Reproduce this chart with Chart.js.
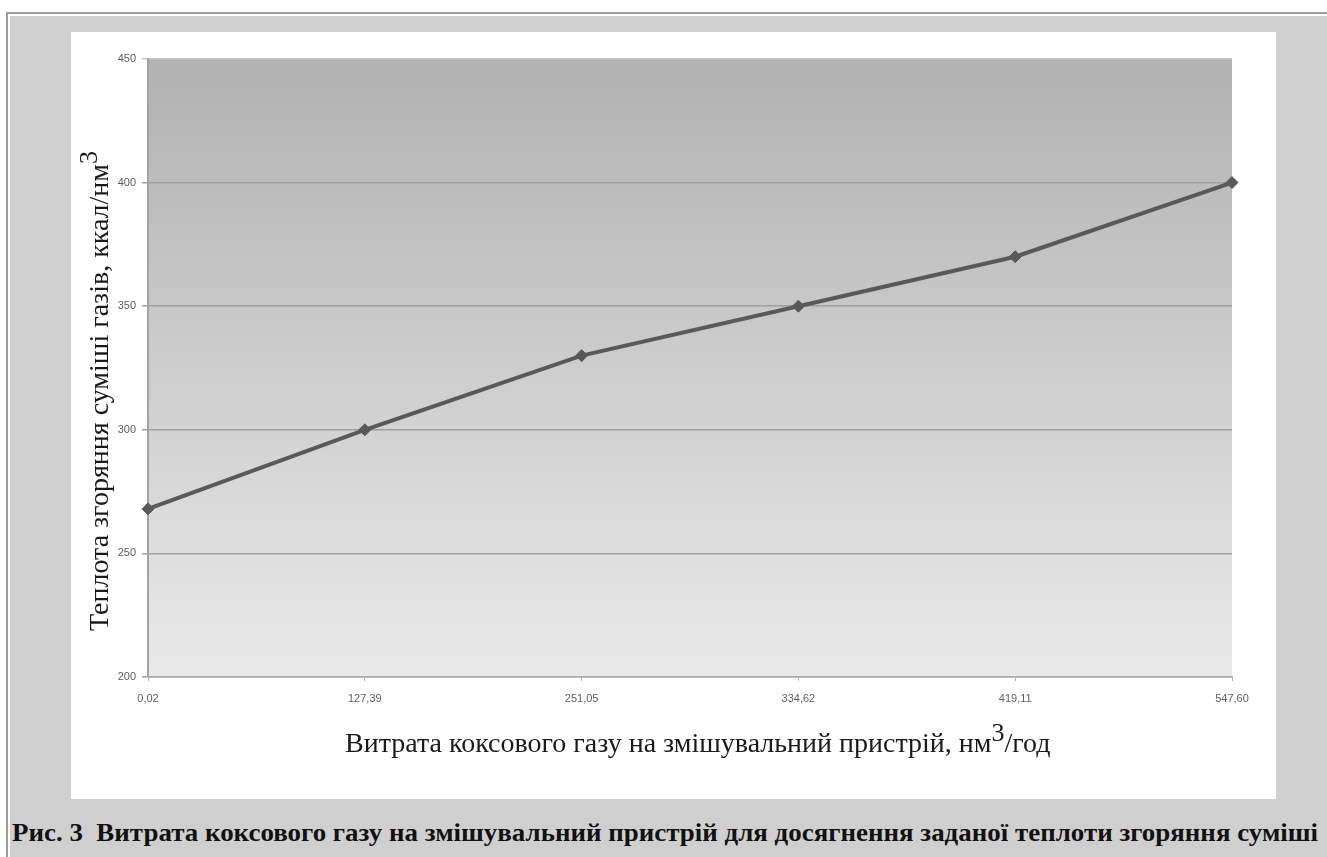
<!DOCTYPE html>
<html>
<head>
<meta charset="utf-8">
<script src="https://cdn.jsdelivr.net/npm/chart.js@4/dist/chart.umd.min.js"></script>
<style>
  html, body { margin:0; padding:0; background:#ffffff; width:1327px; height:857px; overflow:hidden; }
  #frame { position:absolute; left:6px; top:12px; width:1321px; height:845px; box-sizing:border-box;
           border-top:2px solid #9c9c9c; border-left:2px solid #9c9c9c; background:#ffffff; }
  #gray { position:absolute; left:2px; top:2px; right:0; bottom:0; background:#d0cfd0; }
  #white { position:absolute; left:71px; top:32px; width:1205px; height:767px; background:#ffffff; }
  #caption { position:absolute; left:12px; top:819px; white-space:nowrap; font-family:"Liberation Serif","Times New Roman",serif;
             font-weight:bold; font-size:26px; color:#111; transform-origin:0 0; line-height:28px; }
  canvas { display:block; }
</style>
</head>
<body>
<div id="frame"><div id="gray"></div></div>
<div id="white"><canvas id="c" width="1205" height="767"></canvas></div>
<div id="caption">Рис. 3&nbsp;&nbsp;Витрата коксового газу на змішувальний пристрій для досягнення заданої теплоти згоряння суміші</div>
<script>
// ---- data ----
const xLabels = ['0,02', '127,39', '251,05', '334,62', '419,11', '547,60'];
const heatValues = [268, 300, 330, 350, 370, 400];
const yMin = 200, yMax = 450, yStep = 50;
const yTitleParts = ['Теплота згоряння суміші газів, ккал/нм', '3'];
const xTitleParts = ['Витрата коксового газу на змішувальний пристрій, нм', '3', '/год'];

// fit caption width
(function(){
  const cap = document.getElementById('caption');
  const w = cap.getBoundingClientRect().width;
  const target = 1306;
  cap.style.transform = 'scaleX(' + (target / w) + ')';
})();

const bgPlugin = {
  id: 'bgGrad',
  beforeDraw(chart) {
    const {ctx, chartArea: a} = chart;
    const g = ctx.createLinearGradient(0, a.top, 0, a.bottom);
    g.addColorStop(0, '#b1b1b1');
    g.addColorStop(1, '#e9e9e9');
    ctx.save();
    ctx.fillStyle = g;
    ctx.fillRect(a.left, a.top, a.right - a.left, a.bottom - a.top);
    ctx.restore();
  }
};

function drawSup(ctx, parts, x, y, size, align) {
  const font = size + 'px "Liberation Serif", "Times New Roman", serif';
  const supSize = Math.round(size * 0.92);
  const supFont = supSize + 'px "Liberation Serif", "Times New Roman", serif';
  let total = 0;
  const widths = parts.map((p, i) => {
    ctx.font = (i % 2 === 1) ? supFont : font;
    const w = ctx.measureText(p).width;
    total += w;
    return w;
  });
  let cx = align === 'center' ? x - total / 2 : x;
  ctx.textBaseline = 'alphabetic';
  ctx.textAlign = 'left';
  parts.forEach((p, i) => {
    if (i % 2 === 1) {
      ctx.font = supFont;
      ctx.fillText(p, cx, y - size * 0.4);
    } else {
      ctx.font = font;
      ctx.fillText(p, cx, y);
    }
    cx += widths[i];
  });
  return total;
}

const titlePlugin = {
  id: 'supTitles',
  afterDraw(chart) {
    const {ctx} = chart;
    ctx.save();
    ctx.fillStyle = '#1a1a1a';
    drawSup(ctx, xTitleParts, 274, 720, 28, 'left');
    ctx.translate(37, 599);
    ctx.rotate(-Math.PI / 2);
    drawSup(ctx, yTitleParts, 0, 0, 28, 'left');
    ctx.restore();
  }
};

new Chart(document.getElementById('c'), {
  type: 'line',
  data: {
    labels: xLabels,
    datasets: [{
      data: heatValues,
      borderColor: '#595959',
      backgroundColor: '#595959',
      borderWidth: 4,
      pointStyle: 'rectRot',
      pointRadius: 6,
      pointHoverRadius: 6,
      pointBorderWidth: 1,
      tension: 0,
      fill: false
    }]
  },
  options: {
    responsive: false,
    animation: false,
    devicePixelRatio: 1,
    layout: { padding: { top: 27, right: 44, left: 0, bottom: 0 } },
    plugins: { legend: { display: false }, tooltip: { enabled: false }, title: { display: false } },
    scales: {
      x: {
        type: 'category',
        offset: false,
        grid: { display: true, drawOnChartArea: false, drawTicks: true, tickLength: 4, color: '#b5b5b5' },
        border: { display: true, color: '#a8a8a8', width: 1.5 },
        ticks: { color: '#5e5e5e', font: { family: '"Liberation Sans", Arial, sans-serif', size: 11 }, padding: 11, maxRotation: 0, autoSkip: false },
        afterFit(scale) { scale.height = 122; }
      },
      y: {
        min: yMin, max: yMax,
        ticks: { stepSize: yStep, color: '#5e5e5e', font: { family: '"Liberation Sans", Arial, sans-serif', size: 11 }, padding: 6 },
        grid: { color: (c) => (c.tick && c.tick.value === yMax) ? '#c9c9c9' : '#9f9f9f', lineWidth: 1.5, drawTicks: true, tickLength: 6 },
        border: { display: true, color: '#a3a3a3', width: 2 },
        afterFit(scale) { scale.width = 77; }
      }
    }
  },
  plugins: [bgPlugin, titlePlugin]
});
</script>
</body>
</html>
